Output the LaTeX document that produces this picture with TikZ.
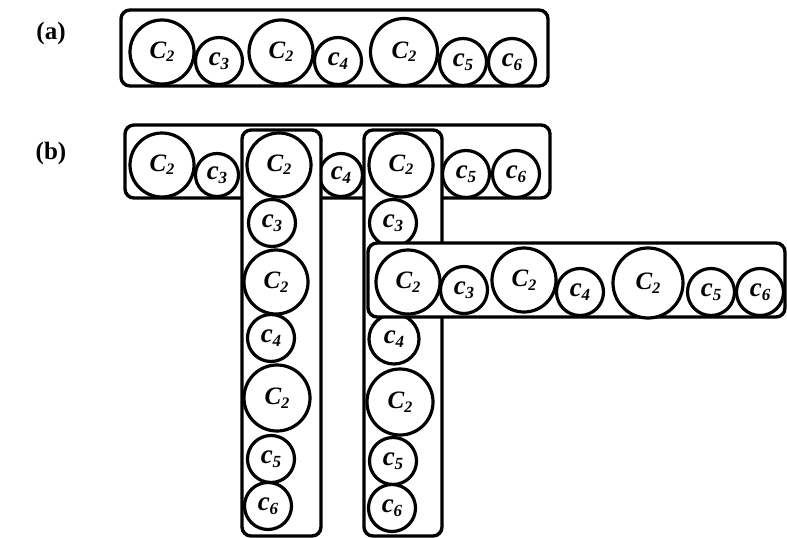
\documentclass[tikz,border=0pt]{standalone}
\usepackage{fontspec}
\setmainfont{Liberation Serif}
\newcommand\bigC{{\bfseries\itshape\fontsize{25}{25}\selectfont C\raisebox{-0.3ex}{\fontsize{16}{16}\selectfont 2}}}
\newcommand\smc[1]{{\bfseries\itshape\fontsize{27}{27}\selectfont c\raisebox{-0.3ex}{\fontsize{17}{17}\selectfont #1}}}
\begin{document}
\begin{tikzpicture}[x=1pt,y=-1pt,
  box/.style={draw,line width=3.4pt,rounded corners=9pt,fill=white,inner sep=0pt},
  circ/.style={draw,circle,line width=3.2pt,fill=white,inner sep=0pt},
  big/.style={circ,minimum size=64pt},
  small/.style={circ,minimum size=47pt},
  lbl/.style={font=\fontsize{25}{25}\selectfont\bfseries}]
\useasboundingbox (0,0) rectangle (787,538);
% labels
\node[lbl] (la) at (51,33) {(a)};
\node[lbl] (lb) at (51,153) {(b)};
% (a)
\node[box,minimum width=427pt,minimum height=76pt] (ra) at (334.5,48) {};
\node[big] (a1) at (162,52) {\bigC};
\node[small] (a2) at (219,61) {\smc{3}};
\node[big] (a3) at (281,52) {\bigC};
\node[small] (a4) at (338,61) {\smc{4}};
\node[circ,minimum size=67pt] (a5) at (404,52) {\bigC};
\node[small] (a6) at (463,62) {\smc{5}};
\node[small] (a7) at (512,62) {\smc{6}};
% (b) top row
\node[box,minimum width=425pt,minimum height=73pt] (rt) at (337.5,161.5) {};
\node[big] (t1) at (162,165) {\bigC};
\node[circ,minimum size=43pt] (t2) at (217,175) {\smc{3}};
\node[circ,minimum size=43pt] (t4) at (341,175) {\smc{4}};
\node[small] (t6) at (466,174) {\smc{5}};
\node[small] (t7) at (516,174) {\smc{6}};
% column 1
\node[box,minimum width=79pt,minimum height=406pt] (c1) at (281.5,333) {};
\node[big] (p1) at (279,165) {\bigC};
\node[small] (p2) at (272,223) {\smc{3}};
\node[big] (p3) at (276,282) {\bigC};
\node[small] (p4) at (271,338) {\smc{4}};
\node[circ,minimum size=66pt] (p5) at (277,398) {\bigC};
\node[small] (p6) at (271,459) {\smc{5}};
\node[small] (p7) at (268,506) {\smc{6}};
% column 2
\node[box,minimum width=78pt,minimum height=406pt] (c2) at (403,333) {};
\node[big] (q1) at (401,165) {\bigC};
\node[small] (q2) at (393,223) {\smc{3}};
\node[circ,minimum size=50pt] (q4) at (394,339) {\smc{4}};
\node[circ,minimum size=66pt] (q5) at (400,402) {\bigC};
\node[small] (q6) at (393,461) {\smc{5}};
\node[small] (q7) at (392,508) {\smc{6}};
% row 3
\node[box,minimum width=417pt,minimum height=74pt] (r3) at (576.5,280) {};
\node[big] (s1) at (408,282) {\bigC};
\node[small] (s2) at (464,290) {\smc{3}};
\node[big] (s3) at (524,280) {\bigC};
\node[small] (s4) at (580,292) {\smc{4}};
\node[circ,minimum size=70pt] (s5) at (648,283) {\bigC};
\node[small] (s6) at (711,292) {\smc{5}};
\node[small] (s7) at (760,292) {\smc{6}};
\end{tikzpicture}
\end{document}
